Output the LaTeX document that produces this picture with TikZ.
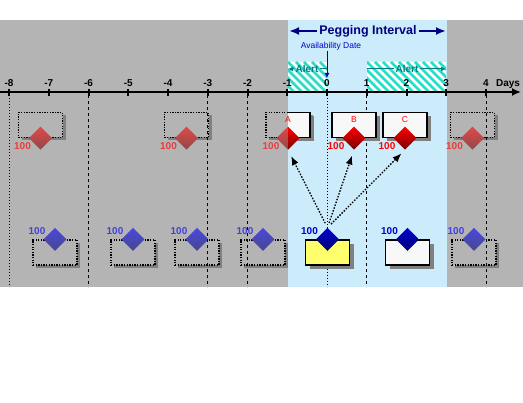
\documentclass[tikz,border=0pt]{standalone}
\usepackage{fontspec}
\setmainfont{Liberation Sans}
\usepackage{xcolor}
\usepackage{tikz}
\usetikzlibrary{arrows.meta,shapes.geometric,shadows}

\definecolor{bggray}{RGB}{180,180,180}
\definecolor{pegblue}{RGB}{204,236,252}
\definecolor{pegnavy}{RGB}{0,0,128}
\definecolor{shadowgray}{RGB}{128,128,128}
\definecolor{boxwhite}{RGB}{248,248,248}
\definecolor{planyellow}{RGB}{255,255,110}
\definecolor{alertteal}{RGB}{0,128,128}
\definecolor{alertcyan}{RGB}{40,222,200}
\definecolor{darkred}{RGB}{120,0,0}
\definecolor{darkblue}{RGB}{0,0,110}

\begin{document}
\begin{tikzpicture}[x=1pt, y=-1pt,
  solidbox/.style={draw=black, line width=1.3pt, fill=boxwhite, minimum width=44pt, minimum height=25pt, inner sep=0pt,
    drop shadow={shadow xshift=4pt, shadow yshift=-4pt, fill=shadowgray, opacity=1}},
  ghostbox/.style={draw=black, line width=1.3pt, dash pattern=on 1.3pt off 1.3pt, fill=bggray, minimum width=44pt, minimum height=25pt, inner sep=0pt,
    drop shadow={shadow xshift=3pt, shadow yshift=-3pt, fill=shadowgray, opacity=1}},
  reddia/.style={diamond, minimum width=23pt, minimum height=23pt, inner sep=0pt, top color=red, bottom color=darkred},
  ghostreddia/.style={diamond, minimum width=23pt, minimum height=23pt, inner sep=0pt, top color=red!60!bggray, bottom color=darkred!60!bggray},
  bluedia/.style={diamond, minimum width=23pt, minimum height=23pt, inner sep=0pt, top color=blue!85!black, bottom color=darkblue},
  ghostbluedia/.style={diamond, minimum width=23pt, minimum height=23pt, inner sep=0pt, top color=blue!60!bggray, bottom color=darkblue!60!bggray},
  redqty/.style={text=red, inner sep=0pt, font=\fontsize{10pt}{12pt}\selectfont\bfseries},
  ghostredqty/.style={text=red!65!bggray, inner sep=0pt, font=\fontsize{10pt}{12pt}\selectfont\bfseries},
  blueqty/.style={text=blue!80!black, inner sep=0pt, font=\fontsize{10pt}{12pt}\selectfont\bfseries},
  ghostblueqty/.style={text=blue!65!bggray, inner sep=0pt, font=\fontsize{10pt}{12pt}\selectfont\bfseries},
  boxletter/.style={text=red, inner sep=0pt, font=\fontsize{8.5pt}{10pt}\selectfont},
  ticklabel/.style={inner sep=0pt, font=\fontsize{10pt}{12pt}\selectfont\bfseries},
  dashline/.style={line width=1pt, dash pattern=on 3pt off 3pt},
  dotline/.style={line width=1pt, dash pattern=on 1pt off 2pt},
  hatchline/.style={alertcyan, line width=2.8pt},
  alerttext/.style={text=alertteal, inner sep=1pt, font=\fontsize{10pt}{12pt}\selectfont\bfseries},
  alertarrow/.style={alertteal, line width=1pt},
  pegarrow/.style={pegnavy, line width=2pt},
  conn/.style={line width=1.3pt, dash pattern=on 1.5pt off 1.5pt, -{Latex[length=9pt,width=7pt]}}]
\useasboundingbox (0,0) rectangle (523,403);
% background bands
\fill[bggray] (0,20) rectangle (523,287);
\fill[pegblue] (288,20) rectangle (447,287);
% alert hatching
\begin{scope}
\clip (288,62) rectangle (327,91);
\fill[white] (288,62) rectangle (327,91);
\foreach \i in {-40,-32,...,48} \draw[hatchline] (288+\i,62) -- ++(30,30);
\end{scope}
\begin{scope}
\clip (367,62) rectangle (446,91);
\fill[white] (367,62) rectangle (446,91);
\foreach \i in {-40,-32,...,88} \draw[hatchline] (367+\i,62) -- ++(30,30);
\end{scope}
\node[alerttext] (alertl) at (307,69) {Alert};
\coordinate (alertl0) at (288,69);
\coordinate (alertl1) at (327,69);
\draw[alertarrow, {Latex[length=5pt,width=5pt]}-] (alertl0) -- (alertl.west);
\draw[alertarrow] (alertl.east) -- (alertl1);
\node[alerttext] (alertr) at (407,69) {Alert};
\coordinate (alertr0) at (367,69);
\coordinate (alertr1) at (446,69);
\draw[alertarrow] (alertr0) -- (alertr.west);
\draw[alertarrow, -{Latex[length=5pt,width=5pt]}] (alertr.east) -- (alertr1);
% pegging interval
\node[text=pegnavy, inner sep=2pt, font=\fontsize{12.5pt}{15pt}\selectfont\bfseries] (peg) at (368,31) {Pegging Interval};
\coordinate (pegl) at (289,31);
\coordinate (pegr) at (446,31);
\draw[pegarrow, {Latex[length=10pt,width=8pt]}-] (pegl) -- (peg.west);
\draw[pegarrow, -{Latex[length=10pt,width=8pt]}] (peg.east) -- (pegr);
\node[text=blue!80!black, inner sep=1pt, font=\fontsize{8.5pt}{10pt}\selectfont] (avail) at (331,46) {Availability Date};
\coordinate (availtip) at (327,78);
\draw[blue!80!black, line width=1pt, -{Latex[length=5pt,width=5pt]}] (avail.south -| availtip) -- (availtip);
% ghost orders, top row
\node[ghostbox] (g1box) at (40.5,125) {};
\node[ghostreddia] (g1dia) at (g1box.south) {};
\node[ghostredqty] (g1qty) at ([xshift=-18pt,yshift=-8pt]g1dia.center) {100};
\node[ghostbox] (g2box) at (186.5,125) {};
\node[ghostreddia] (g2dia) at (g2box.south) {};
\node[ghostredqty] (g2qty) at ([xshift=-18pt,yshift=-8pt]g2dia.center) {100};
\node[ghostbox] (aghost) at (288,125) {};
\node[ghostreddia] (adiaghost) at (aghost.south) {};
\node[ghostredqty] (aqty) at ([xshift=-17pt,yshift=-8pt]adiaghost.center) {100};
\node[ghostbox] (g3box) at (472.5,125) {};
\node[ghostreddia] (g3dia) at (g3box.south) {};
\node[ghostredqty] (g3qty) at ([xshift=-18pt,yshift=-8pt]g3dia.center) {100};
% ghost orders, bottom row
\foreach \n/\x in {h1/55,h2/133,h3/197,h4/263,h5/474} {
  \node[ghostbox] (\n box) at (\x,252.5) {};
  \node[ghostbluedia] (\n dia) at (\n box.north) {};
  \node[ghostblueqty] (\n qty) at ([xshift=-18pt,yshift=8pt]\n dia.center) {100};
}
% day axis
\foreach \k in {-8,0}
  \draw[dotline] (327+39.75*\k,95) -- (327+39.75*\k,287);
\foreach \k in {-6,-3,-2,1,4}
  \draw[dashline] (327+39.75*\k,95) -- (327+39.75*\k,287);
\coordinate (axl) at (0,92);
\coordinate (axr) at (521,92);
\draw[line width=2pt, -{Latex[length=9pt,width=8pt]}] (axl) -- (axr);
\foreach \k in {-8,...,4} {
  \draw[line width=2pt] (327+39.75*\k,89) -- ++(0,7);
  \node[ticklabel] (t\k) at (327+39.75*\k,83.5) {\k};
}
\node[ticklabel] (days) at (508,84) {Days};
% order A, half in the interval
\begin{scope}
\clip (288,0) rectangle (447,300);
\node[solidbox] (abox) at (288,125) {};
\node[reddia] (adia) at (abox.south) {};
\end{scope}
\node[boxletter] (alab) at ([yshift=5pt]abox.center) {A};
% orders B and C
\node[solidbox] (bbox) at (354,125) {};
\node[boxletter] (blab) at ([yshift=5pt]bbox.center) {B};
\node[reddia] (bdia) at (bbox.south) {};
\node[redqty] (bqty) at ([xshift=-18pt,yshift=-8pt]bdia.center) {100};
\node[solidbox] (cbox) at (405,125) {};
\node[boxletter] (clab) at ([yshift=5pt]cbox.center) {C};
\node[reddia] (cdia) at (cbox.south) {};
\node[redqty] (cqty) at ([xshift=-18pt,yshift=-8pt]cdia.center) {100};
% supplies
\node[solidbox, fill=planyellow] (ybox) at (327.5,252.5) {};
\node[bluedia] (ydia) at (ybox.north) {};
\node[blueqty] (yqty) at ([xshift=-18pt,yshift=8pt]ydia.center) {100};
\node[solidbox] (wbox) at (407.5,252.5) {};
\node[bluedia] (wdia) at (wbox.north) {};
\node[blueqty] (wqty) at ([xshift=-18pt,yshift=8pt]wdia.center) {100};
% pegging
\draw[conn, shorten <=5pt, shorten >=7pt] (ydia.north) -- (adia.south);
\draw[conn, shorten <=5pt, shorten >=6pt] (ydia.north) -- (bdia.south);
\draw[conn, shorten <=5pt, shorten >=5pt] (ydia.north) -- (cdia.south);
\end{tikzpicture}
\end{document}
